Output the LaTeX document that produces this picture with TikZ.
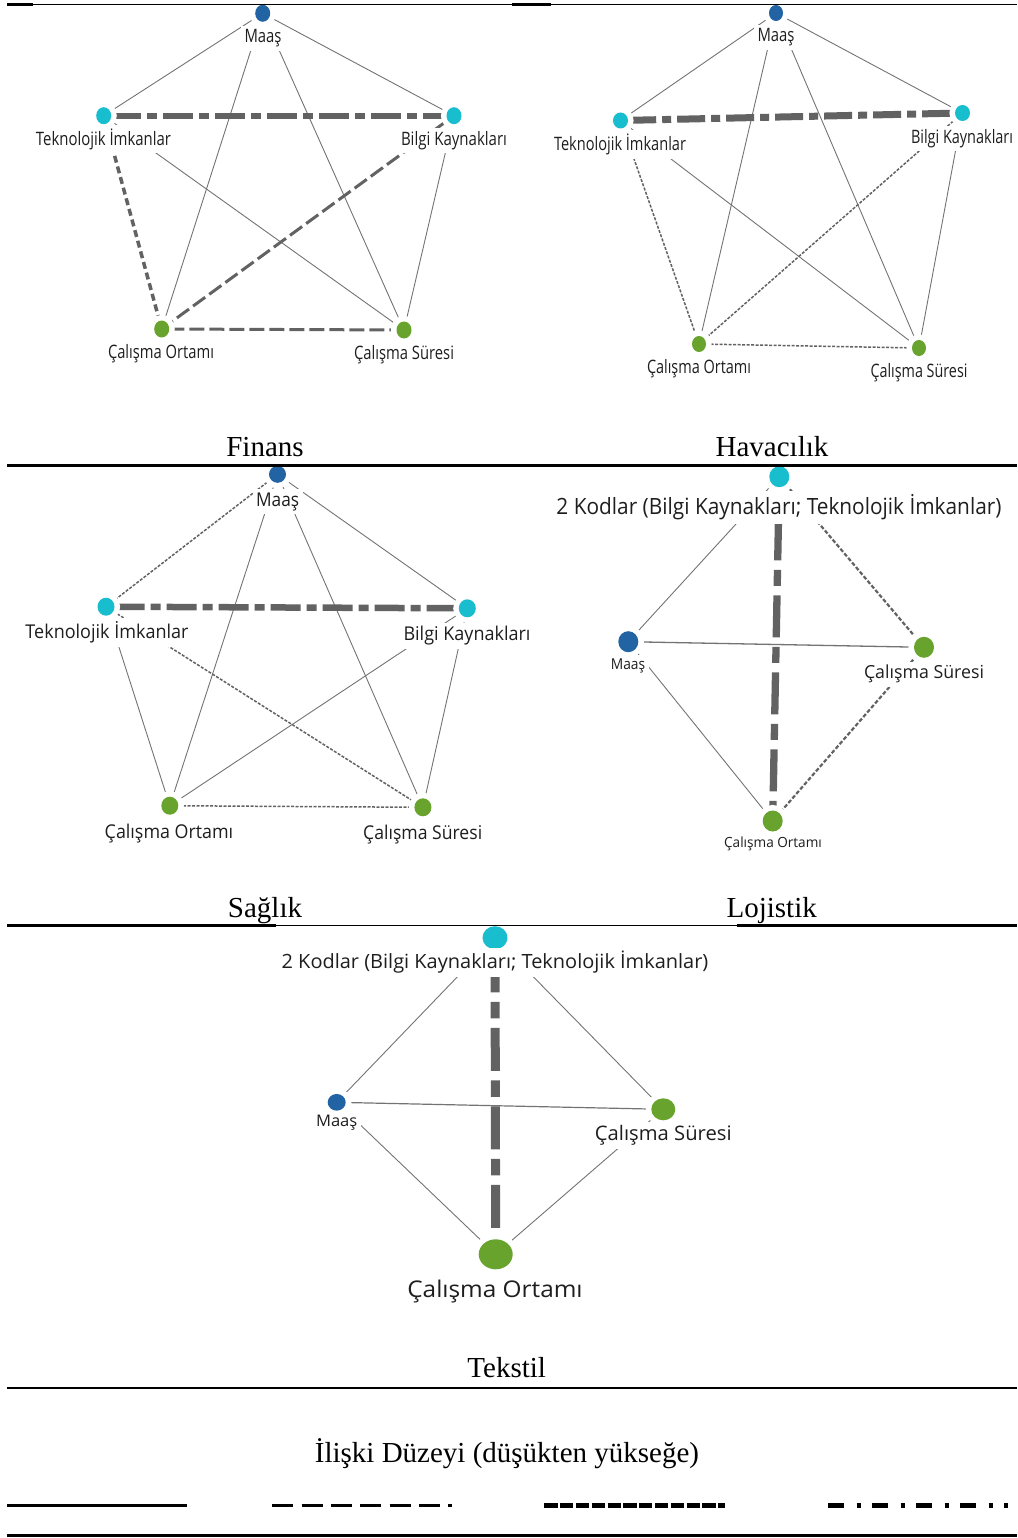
\documentclass[tikz,border=0pt]{standalone}
\usepackage{fontspec}
\setmainfont{Liberation Serif}
\newfontfamily\gf{Open Sans}
\usepackage{graphicx}
\usetikzlibrary{shapes.geometric}
\pgfdeclarelayer{edges}
\pgfsetlayers{edges,main}
\definecolor{mblue}{RGB}{33,99,163}
\definecolor{mcyan}{RGB}{24,189,206}
\definecolor{mgreen}{RGB}{104,163,45}
\definecolor{egray}{RGB}{98,98,98}
\definecolor{tgray}{RGB}{115,115,115}
\definecolor{ltext}{RGB}{30,30,30}
\newcommand\mkdot[6]{\node[gdot, fill=#6, minimum width=#4pt, minimum height=#5pt] (#1) at (#2,#3) {};}
\newcommand\mklab[6]{\node[glab] (#1) at (#2,{#3+0.357*#4}) {\resizebox{#5pt}{\height}{\gf\fontsize{#4}{#4}\selectfont #6}};}
\tikzset{
  gdot/.style={ellipse, inner sep=0pt, draw=none, preaction={draw=white, fill=white, line width=11pt}},
  glab/.style={anchor=base, inner sep=3.5pt, fill=white, text=ltext},
  captxt/.style={anchor=base, inner sep=0pt, font=\fontsize{29}{29}\selectfont},
  eone/.style={draw=tgray, line width=0.9pt},
  fdash/.style={draw=egray, line width=3pt, dash pattern=on 15pt off 5pt},
  fdense/.style={draw=egray, line width=3.5pt, dash pattern=on 7pt off 4pt},
  fdot/.style={draw=egray, line width=1.5pt, dash pattern=on 3pt off 1.5pt},
  mdot/.style={draw=egray, line width=2.2pt, dash pattern=on 4pt off 2pt},
  fdd/.style={draw=egray, line width=6pt, dash pattern=on 30pt off 6pt on 10pt off 6pt},
  hdd/.style={draw=egray, line width=7pt, dash pattern=on 28pt off 6pt on 9pt off 6pt},
  sdd/.style={draw=egray, line width=6.5pt, dash pattern=on 30pt off 6pt on 10pt off 6pt},
  ldd/.style={draw=egray, line width=7.3pt, dash pattern=on 42pt off 9.5pt on 16pt off 9.5pt, dash phase=46pt},
  tdd/.style={draw=egray, line width=9pt, dash pattern=on 43pt off 9.5pt on 16.5pt off 9.5pt},
  rulethick/.style={draw=black, line width=2.5pt},
  rulethin/.style={draw=black, line width=1.1pt},
  legline/.style={draw=black, line width=3pt}
}
\begin{document}
\begin{tikzpicture}[x=1pt,y=-1pt]
\useasboundingbox (0,0) rectangle (1017,1538);
% ---------------- Finans ----------------
\mkdot{FM}{262.7}{13.3}{15}{17}{mblue}
\mkdot{FT}{103.7}{115.7}{15}{17}{mcyan}
\mkdot{FB}{454}{115.7}{15}{17}{mcyan}
\mkdot{FO}{161.7}{329}{15}{17}{mgreen}
\mkdot{FS}{404}{330}{15}{17}{mgreen}
\mklab{FMl}{263}{36.3}{18.5}{37}{Maaş}
\mklab{FTl}{103.5}{138.5}{18.5}{135}{Teknolojik İmkanlar}
\mklab{FBl}{454}{138.5}{18.5}{106}{Bilgi Kaynakları}
\mklab{FOl}{161}{352}{18.5}{106}{Çalışma Ortamı}
\mklab{FSl}{404}{353}{18.5}{100}{Çalışma Süresi}
\node[captxt] (capF) at (265,456.6) {Finans};
% ---------------- Havacilik ----------------
\mkdot{HM}{776}{13}{14}{16}{mblue}
\mkdot{HT}{620.5}{120.5}{15}{16}{mcyan}
\mkdot{HB}{962.5}{113}{15}{16}{mcyan}
\mkdot{HO}{699}{344}{14}{16}{mgreen}
\mkdot{HS}{919}{348}{14}{16}{mgreen}
\mklab{HMl}{776}{35}{18.5}{37}{Maaş}
\mklab{HTl}{620}{144}{18.5}{132}{Teknolojik İmkanlar}
\mklab{HBl}{962}{136.5}{18.5}{102}{Bilgi Kaynakları}
\mklab{HOl}{699}{367}{18.5}{104}{Çalışma Ortamı}
\mklab{HSl}{919}{371}{18.5}{97}{Çalışma Süresi}
\node[captxt] (capH) at (772,456.6) {Havacılık};
% ---------------- Saglik ----------------
\mkdot{SM}{277.5}{474.3}{17}{17}{mblue}
\mkdot{ST}{106}{606.7}{17}{18}{mcyan}
\mkdot{SB}{467.3}{608.3}{17}{18}{mcyan}
\mkdot{SO}{169.8}{805.7}{17}{18}{mgreen}
\mkdot{SS}{422.9}{807.3}{17}{18}{mgreen}
\mklab{SMl}{277.6}{499.3}{19}{43}{Maaş}
\mklab{STl}{107}{631.7}{19}{163}{Teknolojik İmkanlar}
\mklab{SBl}{467}{634}{19}{127}{Bilgi Kaynakları}
\mklab{SOl}{169}{831.7}{19}{128.5}{Çalışma Ortamı}
\mklab{SSl}{422.7}{832.3}{19}{119}{Çalışma Süresi}
\node[captxt] (capS) at (265,917.6) {Sağlık};
% ---------------- Lojistik ----------------
\mkdot{LK}{779.3}{476.7}{20}{21}{mcyan}
\mkdot{LM}{628.3}{641.7}{20}{21}{mblue}
\mkdot{LS}{924}{647.3}{20}{21}{mgreen}
\mkdot{LO}{772.7}{821}{20}{21}{mgreen}
\mklab{LKl}{779}{506.7}{22.4}{445}{2 Kodlar (Bilgi Kaynakları; Teknolojik İmkanlar)}
\mklab{LMl}{628}{664}{15}{34.3}{Maaş}
\mklab{LSl}{924}{672.3}{18}{120}{Çalışma Süresi}
\mklab{LOl}{773}{842.7}{14}{97.7}{Çalışma Ortamı}
\node[captxt] (capL) at (771.7,917.8) {Lojistik};
% ---------------- Tekstil ----------------
\mkdot{TK}{495}{937.7}{25}{23}{mcyan}
\mkdot{TM}{336.7}{1102.3}{18}{16.7}{mblue}
\mkdot{TS}{663.3}{1109.3}{24}{22}{mgreen}
\mkdot{TO}{495.7}{1254.3}{34}{30}{mgreen}
\mklab{TKl}{495}{961.7}{19.6}{426.7}{2 Kodlar (Bilgi Kaynakları; Teknolojik İmkanlar)}
\mklab{TMl}{336.7}{1120.7}{16}{41.3}{Maaş}
\mklab{TSl}{663.3}{1133.3}{20}{136.7}{Çalışma Süresi}
\mklab{TOl}{495}{1289}{23}{175.3}{Çalışma Ortamı}
\node[captxt] (capT) at (506.7,1377.2) {Tekstil};
% ---------------- Legend ----------------
\node[captxt] (legt) at (507,1462.5) {İlişki Düzeyi (düşükten yükseğe)};
\coordinate (La) at (7,1505.5);     \coordinate (Lb) at (187,1505.5);
\coordinate (Lc) at (272.3,1505.5); \coordinate (Ld) at (452.3,1505.5);
\coordinate (Le) at (544.3,1505.5); \coordinate (Lf) at (725,1505.5);
\coordinate (Lg) at (828,1505.5);   \coordinate (Lh) at (1008,1505.5);
\draw[legline] (La) -- (Lb);
\draw[legline, dash pattern=on 21pt off 8.3pt] (Lc) -- (Ld);
\draw[legline, line width=4.5pt, dash pattern=on 13.3pt off 2.5pt] (Le) -- (Lf);
\draw[legline, line width=4.5pt, dash pattern=on 16pt off 12.5pt on 4pt off 11.5pt] (Lg) -- (Lh);
% ---------------- Edges ----------------
\begin{pgfonlayer}{edges}
% Finans
\draw[eone] (FM) -- (FT);
\draw[eone] (FM) -- (FB);
\draw[eone] (FM) -- (FO);
\draw[eone] (FM) -- (FS);
\draw[eone] (FT) -- (FS);
\draw[eone] (FB) -- (FS);
\draw[fdd] (FT) -- (FB);
\draw[fdense] (FT) -- (FO);
\draw[fdash] (FB) -- (FO);
\draw[fdash] (FO) -- (FS);
% Havacilik
\draw[eone] (HM) -- (HT);
\draw[eone] (HM) -- (HB);
\draw[eone] (HM) -- (HO);
\draw[eone] (HM) -- (HS);
\draw[eone] (HT) -- (HS);
\draw[eone] (HB) -- (HS);
\draw[hdd] (HT) -- (HB);
\draw[fdot] (HT) -- (HO);
\draw[fdot] (HB) -- (HO);
\draw[fdot] (HO) -- (HS);
% Saglik
\draw[eone] (SM) -- (SB);
\draw[eone] (SM) -- (SO);
\draw[eone] (SM) -- (SS);
\draw[eone] (ST) -- (SO);
\draw[eone] (SB) -- (SO);
\draw[eone] (SB) -- (SS);
\draw[fdot] (SM) -- (ST);
\draw[fdot] (ST) -- (SS);
\draw[fdot] (SO) -- (SS);
\draw[sdd] (ST) -- (SB);
% Lojistik
\draw[eone] (LK) -- (LM);
\draw[eone] (LM) -- (LO);
\draw[eone, line width=1.3pt] (LM) -- (LS);
\draw[mdot] (LK) -- (LS);
\draw[mdot] (LS) -- (LO);
\draw[ldd] (LK) -- (LO);
% Tekstil
\draw[eone] (TK) -- (TM);
\draw[eone] (TK) -- (TS);
\draw[eone, line width=1.2pt] (TM) -- (TS);
\draw[eone] (TM) -- (TO);
\draw[eone] (TS) -- (TO);
\draw[tdd] (TK) -- (TO);
\end{pgfonlayer}
% ---------------- Table rules ----------------
\draw[rulethin] (7,4.5) -- (1017,4.5);
\draw[rulethick] (7,4.5) -- (33,4.5);
\draw[rulethick] (512,4.5) -- (551,4.5);
\draw[rulethick] (7,465.5) -- (1017,465.5);
\draw[rulethick] (7,925.5) -- (276,925.5);
\draw[rulethin] (276,925.5) -- (737,925.5);
\draw[rulethick] (737,925.5) -- (1017,925.5);
\draw[rulethick] (7,1388) -- (1017,1388);
\draw[rulethick] (7,1535.5) -- (1017,1535.5);
\end{tikzpicture}
\end{document}
